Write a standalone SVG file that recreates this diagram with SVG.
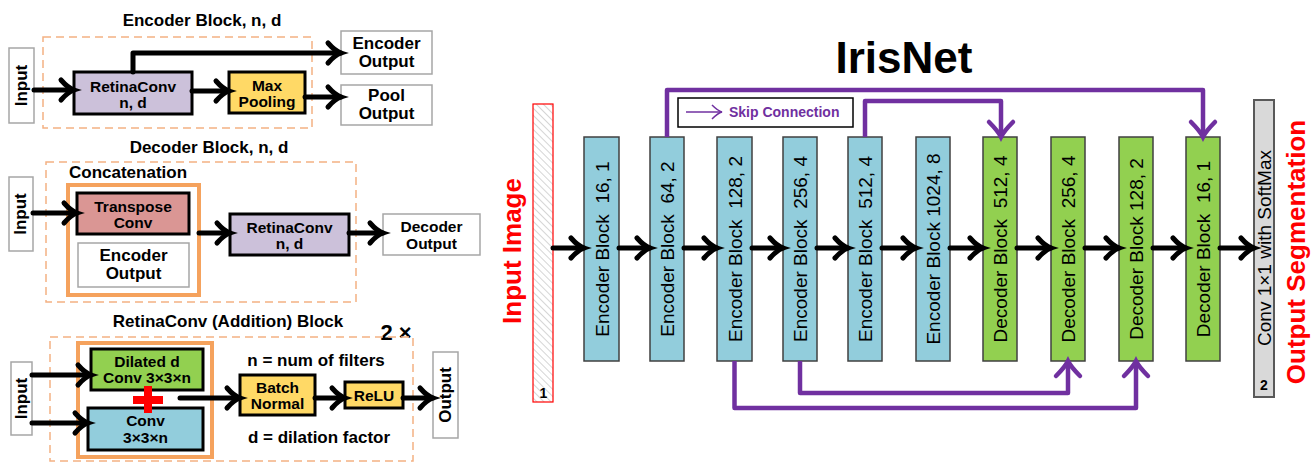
<svg xmlns="http://www.w3.org/2000/svg" width="1312" height="463" viewBox="0 0 1312 463">
<style>
text{font-family:"Liberation Sans",Arial,sans-serif;fill:#000;white-space:pre}
.t{font-size:17px;font-weight:bold;text-anchor:middle}
.s{font-size:15.5px;font-weight:bold;text-anchor:middle}
.bl{font-size:19px;text-anchor:middle}
.dash{fill:none;stroke:#F4B183;stroke-width:1.5;stroke-dasharray:8 5}
.org{fill:none;stroke:#F5A25D;stroke-width:4}
.gb{fill:#fff;stroke:#A6A6A6;stroke-width:1.5}
.bx{stroke:#000;stroke-width:3}
.enc{fill:#92CDDC;stroke:#404040;stroke-width:1.5}
.dec{fill:#92D050;stroke:#404040;stroke-width:1.5}
.ar{fill:none;stroke:#000;stroke-width:5;stroke-linecap:round;marker-end:url(#ah)}
.sk{fill:none;stroke:#7030A0;stroke-width:4.5;stroke-linejoin:round;marker-end:url(#ph)}
</style>
<defs>
<marker id="ah" markerUnits="userSpaceOnUse" viewBox="-20 -15 26 30" markerWidth="26" markerHeight="30" refX="0" refY="0" orient="auto" overflow="visible">
<path d="M-13,-10 Q-6,-2 0,0 Q-6,2 -13,10" fill="none" stroke="#000" stroke-width="5" stroke-linecap="round"/>
</marker>
<marker id="ph" markerUnits="userSpaceOnUse" viewBox="-20 -15 26 30" markerWidth="26" markerHeight="30" refX="0" refY="0" orient="auto" overflow="visible">
<path d="M-15,-12 Q-6,-3 0,0 Q-6,3 -15,12" fill="none" stroke="#7030A0" stroke-width="4.5" stroke-linecap="round"/>
</marker>
<marker id="sh" markerUnits="userSpaceOnUse" viewBox="-12 -8 14 16" markerWidth="14" markerHeight="16" refX="0" refY="0" orient="auto" overflow="visible">
<path d="M-10,-7 Q-4,-1 0,0 Q-4,1 -10,7" fill="none" stroke="#7030A0" stroke-width="1.5"/>
</marker>
<pattern id="hatch" patternUnits="userSpaceOnUse" width="5" height="5" patternTransform="rotate(-45)">
<rect width="5" height="5" fill="#fff"/>
<line x1="0" y1="0" x2="0" y2="5" stroke="#C8C8C8" stroke-width="1.5"/>
</pattern>
</defs>

<!-- Encoder Block panel -->
<g id="encoder-panel">
<text class="t" x="202" y="26">Encoder Block, n, d</text>
<rect class="dash" x="43" y="37" width="269" height="91"/>
</g>
<g id="enc-input"><rect class="gb" x="9" y="48" width="25" height="75"/><text class="t" transform="translate(27,85.5) rotate(-90)" x="0" y="0">Input</text></g>
<g id="enc-retina"><rect class="bx" fill="#CCC1DA" x="74" y="72" width="118" height="42"/><text class="s" x="133" y="92">RetinaConv</text><text class="s" x="133" y="108">n, d</text></g>
<g id="enc-maxpool"><rect class="bx" fill="#FFD966" x="229" y="72" width="76" height="41"/><text class="s" x="267" y="91">Max</text><text class="s" x="267" y="107">Pooling</text></g>
<g id="enc-out"><rect class="gb" x="341" y="31" width="91" height="43"/><text class="t" x="386.5" y="49">Encoder</text><text class="t" x="386.5" y="67">Output</text></g>
<g id="pool-out"><rect class="gb" x="341" y="85" width="91" height="40"/><text class="t" x="386.5" y="101">Pool</text><text class="t" x="386.5" y="119">Output</text></g>

<!-- Decoder Block panel -->
<g id="decoder-panel">
<text class="t" x="209" y="153">Decoder Block, n, d</text>
<rect class="dash" x="46" y="162" width="310" height="140"/>
<text class="t" x="69" y="178" style="text-anchor:start">Concatenation</text>
<rect class="org" x="68" y="185" width="131" height="110"/>
</g>
<g id="dec-input"><rect class="gb" x="9" y="177" width="24" height="74"/><text class="t" transform="translate(26,214) rotate(-90)" x="0" y="0">Input</text></g>
<g id="dec-transpose"><rect class="bx" fill="#DA9694" x="77" y="193" width="112" height="41"/><text class="s" x="133" y="212">Transpose</text><text class="s" x="133" y="228">Conv</text></g>
<g id="dec-encout"><rect class="gb" x="78" y="243" width="111" height="44"/><text class="t" x="133.5" y="261">Encoder</text><text class="t" x="133.5" y="279">Output</text></g>
<g id="dec-retina"><rect class="bx" fill="#CCC1DA" x="230" y="214" width="119" height="41"/><text class="s" x="289.5" y="233">RetinaConv</text><text class="s" x="289.5" y="249">n, d</text></g>
<g id="dec-out"><rect class="gb" x="383" y="214" width="97" height="41"/><text class="s" x="431.5" y="232">Decoder</text><text class="s" x="431.5" y="249">Output</text></g>

<!-- RetinaConv panel -->
<g id="retina-panel">
<text class="t" x="228" y="327">RetinaConv (Addition) Block</text>
<text x="396" y="340" style="font-size:22px;font-weight:bold;text-anchor:middle">2 ×</text>
<rect class="dash" x="50" y="337" width="363" height="124"/>
<rect class="org" x="78" y="343" width="134" height="114"/>
<text class="t" x="316" y="366">n = num of filters</text>
<text class="t" x="319" y="443">d = dilation factor</text>
</g>
<g id="ret-input"><rect class="gb" x="11" y="362" width="21" height="73"/><text class="t" transform="translate(27,398.5) rotate(-90)" x="0" y="0">Input</text></g>
<g id="ret-dilated"><rect class="bx" fill="#92D050" x="91" y="349" width="112" height="41"/><text class="s" x="147" y="367">Dilated d</text><text class="s" x="147" y="383">Conv 3×3×n</text></g>
<g id="ret-conv"><rect class="bx" fill="#92CDDC" x="88" y="408" width="115" height="42"/><text class="s" x="145.5" y="426">Conv</text><text class="s" x="145.5" y="443">3×3×n</text></g>
<g id="ret-plus"><rect x="133" y="396" width="30" height="8" fill="#FF0000"/><rect x="144" y="386" width="8" height="27" fill="#FF0000"/></g>
<g id="ret-bn"><rect class="bx" fill="#FFD966" x="240" y="375" width="75" height="40"/><text class="s" x="277.5" y="393">Batch</text><text class="s" x="277.5" y="409">Normal</text></g>
<g id="ret-relu"><rect class="bx" fill="#FFD966" x="345" y="382" width="58" height="26"/><text class="s" x="374" y="401">ReLU</text></g>
<g id="ret-out"><rect class="gb" x="433" y="352" width="25" height="86"/><text class="t" transform="translate(451,395) rotate(-90)" x="0" y="0">Output</text></g>

<!-- IrisNet -->
<text x="904" y="73" style="font-size:44px;font-weight:bold;text-anchor:middle">IrisNet</text>

<g id="input-image">
<rect x="533" y="104" width="20" height="298" fill="url(#hatch)" stroke="#FF0000" stroke-width="1.2"/>
<text x="543.5" y="398" style="font-size:14px;font-weight:bold;text-anchor:middle">1</text>
<text transform="translate(521,251) rotate(-90)" style="font-size:26px;font-weight:bold;text-anchor:middle;fill:#FF0000">Input Image</text>
</g>
<g id="e16"><rect class="enc" x="584" y="137" width="35" height="224"/><text class="bl" transform="translate(608.5,249) rotate(-90)">Encoder Block  16, 1</text></g>
<g id="e64"><rect class="enc" x="650" y="137" width="34" height="224"/><text class="bl" transform="translate(674,249) rotate(-90)">Encoder Block  64, 2</text></g>
<g id="e128"><rect class="enc" x="717" y="137" width="35" height="224"/><text class="bl" transform="translate(741.5,249) rotate(-90)">Encoder Block  128, 2</text></g>
<g id="e256"><rect class="enc" x="783" y="137" width="34" height="224"/><text class="bl" transform="translate(807,249) rotate(-90)">Encoder Block  256, 4</text></g>
<g id="e512"><rect class="enc" x="848" y="137" width="34" height="224"/><text class="bl" transform="translate(872,249) rotate(-90)">Encoder Block  512, 4</text></g>
<g id="e1024"><rect class="enc" x="916" y="137" width="34" height="224"/><text class="bl" transform="translate(940,249) rotate(-90)">Encoder Block 1024, 8</text></g>
<g id="d512"><rect class="dec" x="983" y="137" width="34" height="224"/><text class="bl" transform="translate(1007,249) rotate(-90)">Decoder Block  512, 4</text></g>
<g id="d256"><rect class="dec" x="1051" y="137" width="34" height="224"/><text class="bl" transform="translate(1075,249) rotate(-90)">Decoder Block  256, 4</text></g>
<g id="d128"><rect class="dec" x="1119" y="137" width="34" height="224"/><text class="bl" transform="translate(1143,249) rotate(-90)">Decoder Block 128, 2</text></g>
<g id="d16"><rect class="dec" x="1186" y="137" width="34" height="224"/><text class="bl" transform="translate(1210,249) rotate(-90)">Decoder Block  16, 1</text></g>
<g id="conv1x1">
<rect x="1254" y="100" width="20" height="297" fill="#D9D9D9" stroke="#595959" stroke-width="2"/>
<text class="bl" transform="translate(1271,248) rotate(-90)">Conv 1×1 with SoftMax</text>
<text x="1264" y="390" style="font-size:14px;font-weight:bold;text-anchor:middle">2</text>
</g>
<g id="output-seg"><text transform="translate(1305,252) rotate(-90)" style="font-size:26px;font-weight:bold;text-anchor:middle;fill:#FF0000">Output Segmentation</text></g>

<g id="legend">
<rect x="678" y="98" width="175" height="29" fill="#fff" stroke="#000" stroke-width="1.5"/>
<path d="M686,112 H722" stroke="#7030A0" stroke-width="1.5" fill="none" marker-end="url(#sh)"/>
<text x="729" y="117" style="font-size:14px;font-weight:bold;fill:#7030A0">Skip Connection</text>
</g>

<g id="connectors">
<path class="ar" d="M34,90 H74"/>
<path class="ar" d="M133,72 V53 H341" style="stroke-linejoin:round"/>
<path class="ar" d="M192,91 H229"/>
<path class="ar" d="M305,97 H341"/>
<path class="ar" d="M33,213 H77"/>
<path class="ar" d="M199,233 H230"/>
<path class="ar" d="M349,233 H383"/>
<path class="ar" d="M32,375 H91"/>
<path class="ar" d="M32,423 H88"/>
<path class="ar" d="M180,398 H240"/>
<path class="ar" d="M315,398 H345"/>
<path class="ar" d="M403,398 H433"/>
<path class="ar" d="M553,248 H584"/>
<path class="ar" d="M619,248 H650"/>
<path class="ar" d="M684,248 H717"/>
<path class="ar" d="M752,248 H783"/>
<path class="ar" d="M817,248 H848"/>
<path class="ar" d="M882,248 H916"/>
<path class="ar" d="M950,248 H983"/>
<path class="ar" d="M1017,248 H1051"/>
<path class="ar" d="M1085,248 H1119"/>
<path class="ar" d="M1153,248 H1186"/>
<path class="ar" d="M1220,248 H1254"/>
<path class="sk" d="M667,137 V90 H1203 V137"/>
<path class="sk" d="M865,137 V101 H1001 V137"/>
<path class="sk" d="M800,361 V393 H1068 V361"/>
<path class="sk" d="M734.5,361 V408 H1136 V361"/>
</g>
</svg>
